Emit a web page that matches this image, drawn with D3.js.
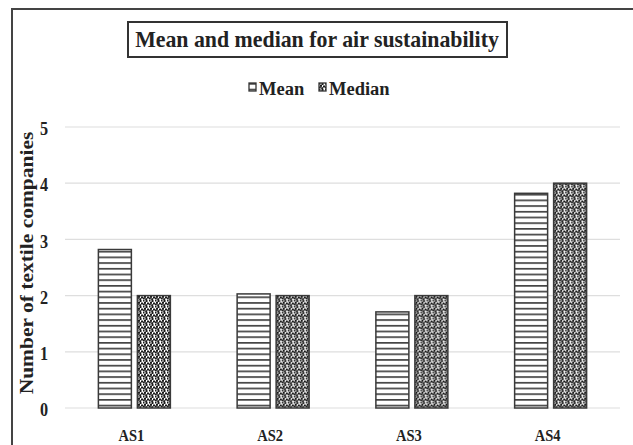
<!DOCTYPE html>
<html>
<head>
<meta charset="utf-8">
<script src="https://cdn.jsdelivr.net/npm/d3@7"></script>
<style>
  html, body { margin: 0; padding: 0; background: #fff; }
  svg { display: block; }
  text { font-family: "Liberation Serif", "Times New Roman", serif; font-weight: bold; fill: #222; }
</style>
</head>
<body>
<svg id="chart" width="633" height="445"></svg>
<script>
// Air sustainability indicators and their summary statistics
const categories = ["AS1", "AS2", "AS3", "AS4"];
const seriesNames = ["Mean", "Median"];
const meanValues = [2.82, 2.03, 1.71, 3.82];
const medianValues = [2, 2, 2, 4];
const yTicks = [0, 1, 2, 3, 4, 5];
const titleText = "Mean and median for air sustainability";
const yLabel = "Number of textile companies";

const svg = d3.select("#chart");
const W = 633, H = 445;
const plot = { left: 65, right: 620, top: 127, bottom: 408 };
const squeeze = 0.9; // narrow letterforms used throughout the chart

// Patterns: horizontal stripes for the mean, speckled dots for the median
const defs = svg.append("defs");
const stripes = defs.append("pattern")
  .attr("id", "stripes").attr("patternUnits", "userSpaceOnUse")
  .attr("width", 8).attr("height", 5.7);
stripes.append("rect").attr("width", 8).attr("height", 5.7).attr("fill", "#fff");
stripes.append("rect").attr("y", 0).attr("width", 8).attr("height", 1.7).attr("fill", "#444");

const dots = defs.append("pattern")
  .attr("id", "dots").attr("patternUnits", "userSpaceOnUse")
  .attr("width", 6).attr("height", 6);
dots.append("rect").attr("width", 6).attr("height", 6).attr("fill", "#fff");
[[0.5,0.5],[3.5,1],[2,2.8],[5,3.5],[0.8,4.5],[3.2,5.2]].forEach(([x, y]) => {
  dots.append("rect").attr("x", x - 1).attr("y", y - 1)
    .attr("width", 2).attr("height", 2).attr("fill", "#1a1a1a");
});
const fills = { Mean: "url(#stripes)", Median: "url(#dots)" };

// Outer frame (open at right and bottom)
svg.append("path")
  .attr("d", `M12,${H} L12,9 L${W},9`)
  .attr("fill", "none").attr("stroke", "#444").attr("stroke-width", 2);

// Scales
const x0 = d3.scaleBand().domain(categories).range([plot.left, plot.right]).paddingInner(0).paddingOuter(0);
const x1 = d3.scaleBand().domain(seriesNames).range([0, x0.bandwidth()]).paddingInner(0.154).paddingOuter(0.856);
const y = d3.scaleLinear().domain([0, 5]).range([plot.bottom, plot.top]);

// Gridlines
svg.append("g").selectAll("line").data(yTicks).join("line")
  .attr("x1", plot.left).attr("x2", plot.right)
  .attr("y1", d => y(d)).attr("y2", d => y(d))
  .attr("stroke", "#dedede").attr("stroke-width", 1.2);

// Y axis tick labels
const yAxis = d3.axisLeft(y).tickValues(yTicks).tickSize(0).tickPadding(0).tickFormat(d3.format("d"));
const yg = svg.append("g").attr("transform", `translate(48,2)`).call(yAxis);
yg.select(".domain").remove();
yg.selectAll(".tick text")
  .attr("x", 0).attr("text-anchor", "end")
  .attr("font-size", 18).attr("fill", "#333")
  .attr("transform", `scale(${squeeze},1)`)
  .style("font-family", "'Liberation Serif', serif").style("font-weight", "bold");

// X axis category labels
const xAxis = d3.axisBottom(x0).tickSize(0).tickPadding(0);
const xg = svg.append("g").attr("transform", `translate(0,429.3)`).call(xAxis);
xg.select(".domain").remove();
xg.selectAll(".tick text")
  .attr("y", 0).attr("dy", "0.71em")
  .attr("font-size", 16.5).attr("fill", "#333")
  .attr("transform", `translate(-3,0) scale(0.88,1)`)
  .style("font-family", "'Liberation Serif', serif").style("font-weight", "bold");

// Bars
const rows = categories.map((c, i) => ({ cat: c, Mean: meanValues[i], Median: medianValues[i] }));
const groups = svg.append("g").selectAll("g").data(rows).join("g")
  .attr("transform", d => `translate(${x0(d.cat)},0)`);
groups.selectAll("rect").data(d => seriesNames.map(s => ({ s, v: d[s] }))).join("rect")
  .attr("x", d => x1(d.s))
  .attr("width", x1.bandwidth())
  .attr("y", d => y(d.v))
  .attr("height", d => y(0) - y(d.v))
  .attr("fill", d => fills[d.s])
  .attr("stroke", "#3a3a3a").attr("stroke-width", 1.5);

// Y axis title
svg.append("text")
  .attr("transform", `translate(33,263) scale(${squeeze},1) rotate(-90)`)
  .attr("text-anchor", "middle")
  .attr("font-size", 21.5)
  .attr("fill", "#333")
  .text(yLabel);

// Title in a box
const title = svg.append("text")
  .attr("transform", `translate(317,47) scale(0.91,1)`)
  .attr("text-anchor", "middle")
  .attr("font-size", 24)
  .attr("fill", "#111")
  .text(titleText);
svg.insert("rect", () => title.node())
  .attr("x", 128).attr("y", 22)
  .attr("width", 379).attr("height", 35)
  .attr("fill", "#fff").attr("stroke", "#333").attr("stroke-width", 2);

// Legend
const legendItems = [
  { name: "Mean", x: 249 },
  { name: "Median", x: 319 }
];
const lg = svg.append("g").selectAll("g").data(legendItems).join("g")
  .attr("transform", d => `translate(${d.x},83)`);
lg.append("rect")
  .attr("width", 7).attr("height", 8)
  .attr("fill", d => fills[d.name])
  .attr("stroke", "#333").attr("stroke-width", 1.3);
lg.append("text")
  .attr("x", 10).attr("y", 12)
  .attr("font-size", 18.5)
  .attr("fill", "#333")
  .text(d => d.name);
</script>
</body>
</html>
